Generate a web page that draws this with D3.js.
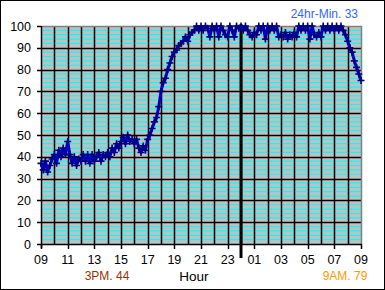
<!DOCTYPE html>
<html>
<head>
<meta charset="utf-8">
<script src="https://cdn.jsdelivr.net/npm/d3@7"></script>
<style>
  body { margin: 0; background: #fff; }
  svg { display: block; font-family: "Liberation Sans", Arial, sans-serif; }
</style>
</head>
<body>
<div id="chart"></div>
<script>
// readings every 10 minutes, starting 09:00
const stepMinutes = 10;
const humidity = [
  37, 34, 38, 33, 36, 39,
  41, 37, 43, 40, 44, 41,
  47, 41, 37, 40, 36, 39,
  38, 41, 38, 41, 37, 41,
  38, 40, 42, 38, 41, 40,
  42, 40, 44, 42, 46, 44,
  47, 49, 46, 50, 47, 48,
  46, 48, 44, 42, 45, 43,
  48, 50, 53, 56, 58, 63,
  70, 74, 76, 80, 83, 86,
  88, 89, 91, 92, 93, 95,
  93, 96, 97, 98, 100, 98,
  100, 98, 100, 99, 95, 100,
  98, 100, 95, 100, 98, 96,
  95, 100, 98, 95, 100, 99,
  100, 98, 100, 98, 96, 95,
  97, 96, 100, 98, 100, 94,
  100, 98, 100, 98, 100, 95,
  96, 95, 97, 94, 96, 95,
  97, 95, 100, 98, 100, 98,
  100, 94, 100, 96, 95, 97,
  95, 100, 98, 100, 98, 100,
  98, 100, 98, 100, 98, 96,
  93, 90, 88, 84, 81, 78,
  75
];
const hourTicks = [0, 2, 4, 6, 8, 10, 12, 14, 16, 18, 20, 22, 24];
const hourLabels = ["09", "11", "13", "15", "17", "19", "21", "23", "01", "03", "05", "07", "09"];
const yTicks = [0, 10, 20, 30, 40, 50, 60, 70, 80, 90, 100];
const midnightHour = 15;
const minLabel = "24hr-Min. 33";
const pmLabel = "3PM. 44";
const amLabel = "9AM. 79";

const W = 385, H = 290;
const svg = d3.select("#chart").append("svg").attr("width", W).attr("height", H);

svg.append("rect").attr("x", 0.5).attr("y", 0.5).attr("width", W - 1).attr("height", H - 1)
  .attr("fill", "#fff").attr("stroke", "#000");

const x = d3.scaleLinear().domain([0, 24]).range([41, 361]);
const y = d3.scaleLinear().domain([0, 100]).range([244, 26]);

// plot background
svg.append("rect").attr("x", x(0)).attr("y", y(100))
  .attr("width", x(24) - x(0)).attr("height", y(0) - y(100))
  .attr("fill", "#c0c0c0");

// cyan minor lines every 2
const minor = d3.range(2, 100, 2).filter(v => v % 10 !== 0);
svg.append("g").selectAll("line").data(minor).join("line")
  .attr("x1", x(0)).attr("x2", x(24))
  .attr("y1", d => y(d)).attr("y2", d => y(d))
  .attr("stroke", "#00ffff").attr("stroke-width", 1.2);

// black major lines
svg.append("g").selectAll("line").data(yTicks.slice(1, -1)).join("line")
  .attr("x1", x(0) - 4).attr("x2", x(24))
  .attr("y1", d => Math.round(y(d)) + 0.5).attr("y2", d => Math.round(y(d)) + 0.5)
  .attr("stroke", "#000").attr("stroke-width", 1.5);

// hourly verticals
svg.append("g").selectAll("line").data(d3.range(1, 24)).join("line")
  .attr("x1", d => Math.round(x(d)) + 0.5).attr("x2", d => Math.round(x(d)) + 0.5)
  .attr("y1", y(100)).attr("y2", y(0))
  .attr("stroke", "#000").attr("stroke-width", 1.5);

// plot border: gray top/right
svg.append("path")
  .attr("d", `M${x(0)},${y(100) + 0.5}H${x(24) + 0.5}V${y(0)}`)
  .attr("fill", "none").attr("stroke", "#808080").attr("stroke-width", 1.5);

// axes
svg.append("line").attr("x1", x(0) + 0.5).attr("x2", x(0) + 0.5).attr("y1", y(100)).attr("y2", y(0) + 4)
  .attr("stroke", "#000").attr("stroke-width", 1.5);
svg.append("line").attr("x1", x(0) - 4).attr("x2", x(24) + 1).attr("y1", y(0) + 0.5).attr("y2", y(0) + 0.5)
  .attr("stroke", "#000").attr("stroke-width", 1.5);
svg.append("line").attr("x1", x(0) - 4).attr("x2", x(0)).attr("y1", y(100) + 0.5).attr("y2", y(100) + 0.5)
  .attr("stroke", "#000").attr("stroke-width", 1.5);

// x ticks
svg.append("g").selectAll("line").data(hourTicks).join("line")
  .attr("x1", d => Math.round(x(d)) + 0.5).attr("x2", d => Math.round(x(d)) + 0.5)
  .attr("y1", y(0)).attr("y2", y(0) + 5)
  .attr("stroke", "#000").attr("stroke-width", 1.5);

// midnight line
svg.append("line").attr("x1", x(midnightHour)).attr("x2", x(midnightHour))
  .attr("y1", y(100) - 2).attr("y2", y(0) + 14)
  .attr("stroke", "#000").attr("stroke-width", 3);

// y labels
svg.append("g").selectAll("text").data(yTicks).join("text")
  .attr("x", 31).attr("y", d => y(d) + 4.5)
  .attr("text-anchor", "end").attr("font-size", 12.5).attr("fill", "#000")
  .text(d => d);

// x labels
svg.append("g").selectAll("text").data(hourTicks).join("text")
  .attr("x", d => x(d)).attr("y", 264)
  .attr("text-anchor", "middle").attr("font-size", 12.5).attr("fill", "#000")
  .text((d, i) => hourLabels[i]);

// data
const pts = humidity.map((v, i) => [i * stepMinutes / 60, v]);
svg.append("path").datum(pts)
  .attr("fill", "none").attr("stroke", "#0000cc").attr("stroke-width", 3)
  .attr("stroke-linejoin", "round")
  .attr("d", d3.line().x(d => x(d[0])).y(d => y(d[1])));
svg.append("g").selectAll("path").data(pts).join("path")
  .attr("d", d => `M${x(d[0]) - 3.5},${y(d[1])}h7M${x(d[0])},${y(d[1]) - 3.5}v7`)
  .attr("stroke", "#000080").attr("stroke-width", 1.6).attr("fill", "none");

// texts
svg.append("text").attr("x", 358).attr("y", 18).attr("text-anchor", "end")
  .attr("font-size", 12).attr("fill", "#3366ff").text(minLabel);
svg.append("text").attr("x", 107).attr("y", 280).attr("text-anchor", "middle")
  .attr("font-size", 12).attr("fill", "#993300").text(pmLabel);
svg.append("text").attr("x", 194).attr("y", 281).attr("text-anchor", "middle")
  .attr("font-size", 13.5).attr("fill", "#000").text("Hour");
svg.append("text").attr("x", 345).attr("y", 280).attr("text-anchor", "middle")
  .attr("font-size", 12).attr("fill", "#ff9900").text(amLabel);
</script>
</body>
</html>
